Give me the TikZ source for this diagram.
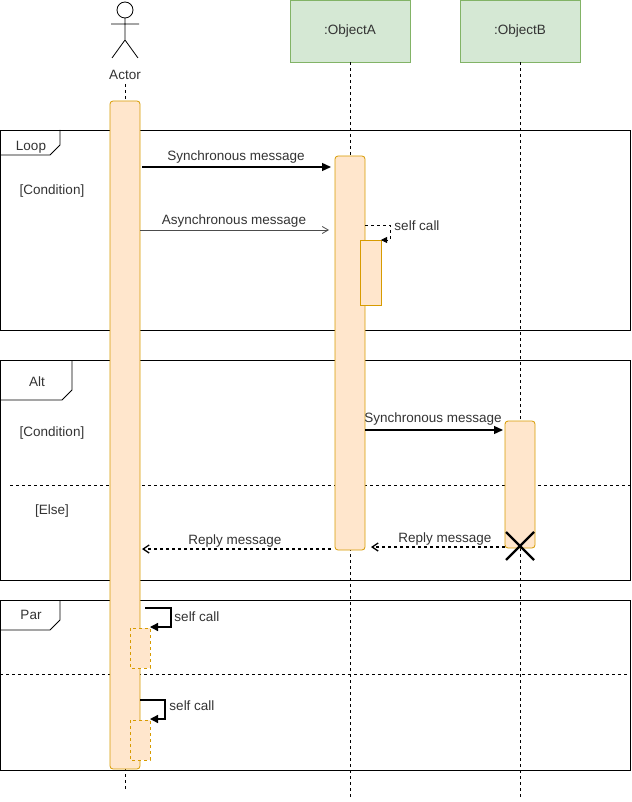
\documentclass[tikz,border=0pt]{standalone}
\usepackage{fontspec}
\setmainfont{Liberation Sans}
\usetikzlibrary{arrows.meta}
\definecolor{actfill}{HTML}{FFE6CC}
\definecolor{actdraw}{HTML}{D79B00}
\definecolor{objfill}{HTML}{D5E8D4}
\definecolor{objdraw}{HTML}{82B366}
\definecolor{txt}{HTML}{333333}
\begin{document}
\begin{tikzpicture}[x=1pt,y=-1pt,font=\fontsize{13.5}{15}\selectfont,line width=0.8pt,
  lbl/.style={text=txt,inner sep=0pt},
  objbox/.style={draw=objdraw,fill=objfill,minimum width=120pt,minimum height=62pt,text=txt,inner sep=0pt},
  actbox/.style={draw=actdraw,fill=actfill,rounded corners=3pt},
  subact/.style={draw=actdraw,fill=actfill},
  lifeline/.style={dashed,black},
  frame/.style={draw=black},
  syncmsg/.style={-{Triangle[length=9pt,width=8pt]},line width=1.3pt},
  asyncmsg/.style={-{Straight Barb[length=6pt,width=7pt]},draw=black!70},
  replymsg/.style={-{Straight Barb[length=6pt,width=8pt]},dashed,line width=1.3pt},
  selfmsg/.style={-{Triangle[length=8pt,width=8pt]},line width=1.3pt}]
\useasboundingbox (0,0) rectangle (631,802);
% actor
\draw[black] (125,10) circle (8);
\draw (125,18) -- (125,40) (111,24) -- (139,24) (125,40) -- (112,58) (125,40) -- (138,58);
\node[lbl] (actor) at (125,75) {Actor};
\node[objbox] (oa) at (350,31) {:ObjectA};
\node[objbox] (ob) at (520,31) {:ObjectB};
% lifelines
\draw[lifeline] (125,84) -- (125,790);
\draw[lifeline] (oa.south) -- (350,800);
\draw[lifeline] (ob.south) -- (520,800);
% frames
\draw[frame] (0,130) rectangle (630,330);
\draw[frame] (0,155) -- (50,155) -- (60,145) -- (60,130);
\node[lbl] (loop) at (31,147) {Loop};
\node[lbl] (c1) at (52,191) {[Condition]};
\draw[frame] (0,360) rectangle (630,580);
\draw[frame] (0,400) -- (62,400) -- (72,390) -- (72,360);
\node[lbl] (alt) at (37,382) {Alt};
\node[lbl] (c2) at (52,433) {[Condition]};
\draw[dashed] (10,485) -- (630,485);
\node[lbl] (else) at (52,511) {[Else]};
\draw[frame] (0,600) rectangle (630,770);
\draw[frame] (0,630) -- (50,630) -- (60,620) -- (60,600);
\node[lbl] (par) at (31,615) {Par};
\draw[dashed] (0,674) -- (630,674);
% activations
\draw[actbox] (110,101) rectangle (140,769);
\draw[actbox] (335,156) rectangle (365,550);
\draw[subact] (360,240) rectangle (381,305);
\draw[actbox] (505,421) rectangle (535,548);
\draw[actdraw,dashed,fill=actfill] (130,628) rectangle (150,668);
\draw[actdraw,dashed,fill=actfill] (130,720) rectangle (150,760);
% messages
\coordinate (s1a) at (142,167); \coordinate (s1b) at (331,167);
\draw[syncmsg] (s1a) -- (s1b);
\node[lbl] (l1) at (236,157) {Synchronous message};
\coordinate (a1a) at (140,230); \coordinate (a1b) at (329,230);
\draw[asyncmsg] (a1a) -- (a1b);
\node[lbl] (l2) at (234,221) {Asynchronous message};
\coordinate (sc1) at (365,225); \coordinate (sc1e) at (381,240);
\draw[dashed,-{Triangle[length=6pt,width=6pt]}] (sc1) -- (390,225) -- (390,240) -- (sc1e);
\node[lbl] (l3) at (417,226) {self call};
\coordinate (s2a) at (365,430); \coordinate (s2b) at (503,430);
\draw[syncmsg] (s2a) -- (s2b);
\node[lbl] (l4) at (433,419) {Synchronous message};
\coordinate (r1a) at (331,549); \coordinate (r1b) at (142,549);
\draw[replymsg] (r1a) -- (r1b);
\node[lbl] (l5) at (235,541) {Reply message};
\coordinate (r2a) at (505,547); \coordinate (r2b) at (371,547);
\draw[replymsg] (r2a) -- (r2b);
\node[lbl] (l6) at (445,539) {Reply message};
\draw[line width=2.2pt] (506,532) -- (534,560) (534,532) -- (506,560);
\coordinate (p1) at (145,608); \coordinate (p1e) at (150,627);
\draw[selfmsg] (p1) -- (171,608) -- (171,627) -- (p1e);
\node[lbl] (l7) at (197,617) {self call};
\coordinate (p2) at (140,700); \coordinate (p2e) at (150,719);
\draw[selfmsg] (p2) -- (165,700) -- (165,719) -- (p2e);
\node[lbl] (l8) at (192,706) {self call};
\end{tikzpicture}
\end{document}
